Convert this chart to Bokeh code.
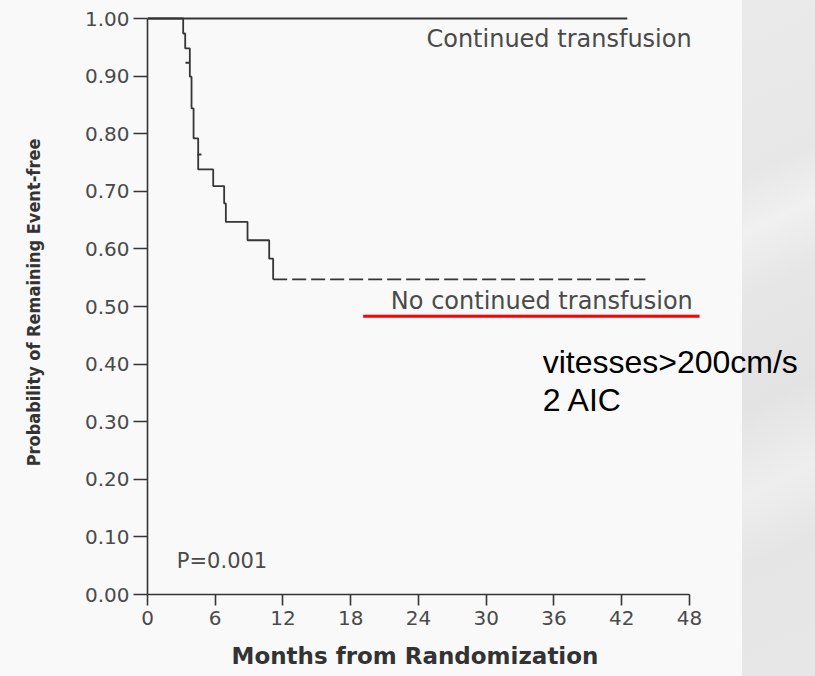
from bokeh.plotting import figure
from bokeh.models import FixedTicker, NumeralTickFormatter, Range1d, Title
from bokeh.core.properties import value
from bokeh.embed import file_html
from bokeh.resources import INLINE

# Kaplan-Meier estimate, arm without continued transfusion (steps at each event)
halted_months = [0, 3.16, 3.34, 3.75, 3.90, 4.08, 4.49, 5.82, 6.79, 6.94, 8.86, 10.78, 11.13]
halted_surv = [1.0, 0.974, 0.948, 0.899, 0.844, 0.792, 0.738, 0.709, 0.679, 0.647, 0.615, 0.583, 0.547]
halted_last_followup = 44.1
halted_censor_months = [3.54, 4.60]
halted_censor_surv = [0.923, 0.764]

# Arm with continued transfusion: no events
continued_months = [0, 42.5]
continued_surv = [1.0, 1.0]

x_ticks = [0, 6, 12, 18, 24, 30, 36, 42, 48]
y_ticks = [0.0, 0.1, 0.2, 0.3, 0.4, 0.5, 0.6, 0.7, 0.8, 0.9, 1.0]

INK = "#353535"
TEXT = "#4a4a4a"
BG = "#f9f9f9"
SANS = "DejaVu Sans"

p = figure(
    frame_width=668, frame_height=584,
    x_range=Range1d(0, 59.17), y_range=Range1d(0, 1.0139),
    output_backend="svg", toolbar_location=None,
    min_border_left=147, min_border_right=0, min_border_top=10, min_border_bottom=0,
    background_fill_alpha=0, border_fill_alpha=0, outline_line_color=None,
)
p.grid.visible = False

# page background: light panel with a grey slide strip on the right
p.styles = {
    "background-color": BG,
    "background-image": ("linear-gradient(155deg, #eaeaea 0%, #e7e7e7 25%, #f0f0f0 33%, "
                         "#e6e6e6 42%, #e3e3e3 58%, #eeeeee 70%, #e5e5e5 80%, #e7e7e7 100%)"),
    "background-position": "742px 0px",
    "background-size": "73px 676px",
    "background-repeat": "no-repeat",
}

# axes
xa = p.xaxis[0]
xa.ticker = FixedTicker(ticks=x_ticks)
xa.bounds = (0, 48)
ya = p.yaxis[0]
ya.ticker = FixedTicker(ticks=y_ticks)
ya.bounds = (0, 1.0)
ya.formatter = NumeralTickFormatter(format="0.00")
for ax in (xa, ya):
    ax.axis_line_color = INK
    ax.axis_line_width = 1.6
    ax.major_tick_line_color = INK
    ax.major_tick_line_width = 1.6
    ax.major_tick_in = 0
    ax.minor_tick_line_color = None
    ax.major_label_text_font = SANS
    ax.major_label_text_font_size = "20px"
    ax.major_label_text_color = TEXT
xa.major_tick_out = 11
xa.major_label_standoff = 5
ya.major_tick_out = 14
ya.major_label_standoff = 4

ya.axis_label = "Probability of Remaining Event-free"
ya.axis_label_text_font = "DejaVu Sans Condensed, Liberation Sans"
ya.axis_label_text_font_style = "bold"
ya.axis_label_text_font_size = "18px"
ya.axis_label_text_color = "#333333"
ya.axis_label_standoff = 38

p.add_layout(Title(text="Months from Randomization", align="left", offset=84,
                   vertical_align="top", standoff=30,
                   text_font=SANS, text_font_style="bold",
                   text_font_size="23px", text_color="#333333"), "below")

# survival curves
p.line(continued_months, continued_surv, line_color=INK, line_width=1.8)
p.step(halted_months, halted_surv, mode="after", line_color=INK, line_width=1.8)
p.line([halted_months[-1], halted_last_followup], [halted_surv[-1], halted_surv[-1]],
       line_color=INK, line_width=1.8, line_dash="14 5")
p.scatter(halted_censor_months, halted_censor_surv, marker="dash", size=4,
          line_color=INK, line_width=2)

# curve labels
p.text(x=[48.2], y=[0.964], text=["Continued transfusion"], text_align="right",
       text_baseline="middle", text_font=value(SANS),
       text_font_size="24px", text_color=TEXT)
p.text(x=[48.3], y=[0.510], text=["No continued transfusion"], text_align="right",
       text_baseline="middle", text_font=value(SANS),
       text_font_size="24px", text_color=TEXT)
p.line([19.1, 48.9], [0.483, 0.483], line_color="#ff0000", line_width=3)

p.text(x=[2.6], y=[0.0578], text=["P=0.001"], text_align="left",
       text_baseline="middle", text_font=value(SANS),
       text_font_size="21px", text_color=TEXT)

# note
p.text(x=[35.0, 35.0], y=[0.4033, 0.3371], text=["vitesses>200cm/s", "2 AIC"],
       text_align="left", text_baseline="middle",
       text_font=value("Liberation Sans"), text_font_size="32px",
       text_color="#000000")

open("out.html", "w").write(file_html(p, INLINE))
